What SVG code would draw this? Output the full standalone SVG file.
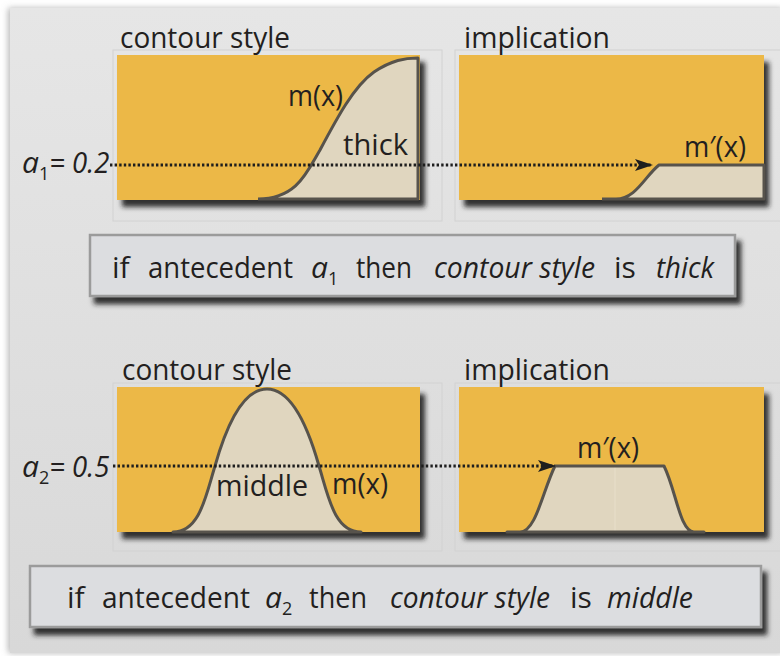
<svg xmlns="http://www.w3.org/2000/svg" width="780" height="656" viewBox="0 0 780 656">
<defs>
<linearGradient id="bg" x1="0" y1="0" x2="0" y2="1">
<stop offset="0" stop-color="#e6e6e6"/>
<stop offset="1" stop-color="#d8d8d8"/>
</linearGradient>
<filter id="sh" x="-10%" y="-10%" width="130%" height="140%">
<feDropShadow dx="5" dy="7" stdDeviation="2.5" flood-color="#1e1e1e" flood-opacity="0.9"/>
</filter>
<filter id="bgsh" x="-5%" y="-5%" width="110%" height="110%">
<feDropShadow dx="-2" dy="0" stdDeviation="3" flood-color="#888" flood-opacity="0.6"/>
</filter>
<marker id="arr" viewBox="0 0 18 12" refX="17" refY="6" markerWidth="18" markerHeight="12" markerUnits="userSpaceOnUse" orient="auto">
<path d="M0,0 L18,6 L0,12 L4,6 Z" fill="#1e1e1e"/>
</marker>
<style>
.t{font-family:"Open Sans","Noto Sans","Liberation Sans",sans-serif;font-size:30px;fill:#231f20}
.i{font-style:italic}
.sub{font-size:18px}
.panel{fill:#ecb846}
.area{fill:#e0d6bf;stroke:none}
.curve{fill:none;stroke:#57534c;stroke-width:3;stroke-linejoin:round}
.dot{fill:none;stroke:#1e1e1e;stroke-width:3;stroke-dasharray:2.4 2.2}
.frame{fill:none;stroke:#d2d2d2;stroke-width:1}
.rule{fill:#dcdde0;stroke:#9b9b9b;stroke-width:2.5}
</style>
</defs>
<rect x="0" y="0" width="780" height="656" fill="#ffffff"/>
<rect x="10" y="8" width="775" height="645" fill="url(#bg)" filter="url(#bgsh)"/>

<g id="frames">
<rect class="frame" x="113" y="50" width="329" height="171"/>
<rect class="frame" x="455" y="50" width="330" height="171"/>
<rect class="frame" x="113" y="383" width="329" height="168"/>
<rect class="frame" x="455" y="383" width="330" height="168"/>
</g>

<g id="panel1">
<text class="t" x="120" y="48" textLength="170" lengthAdjust="spacingAndGlyphs">contour style</text>
<rect class="panel" x="117" y="55" width="303" height="145" filter="url(#sh)"/>
<path class="area" d="M258,199 C297,199 307,172 320,150 C337,118 354,86 374,72 C392,60 405,58 418,58 L418,199 Z"/>
<path class="curve" d="M258,199 C297,199 307,172 320,150 C337,118 354,86 374,72 C392,60 405,58 418,58 L418,199 L258,199"/>
<text class="t" x="288" y="106" textLength="55" lengthAdjust="spacingAndGlyphs">m(x)</text>
<text class="t" x="343" y="155" textLength="65" lengthAdjust="spacingAndGlyphs">thick</text>
</g>

<g id="panel2">
<text class="t" x="464" y="48" textLength="146" lengthAdjust="spacingAndGlyphs">implication</text>
<rect class="panel" x="459" y="55" width="305" height="145" filter="url(#sh)"/>
<path class="area" d="M602,199 L616,199 C636,199 645,176 659,165 L764,165 L764,199 Z"/>
<path class="curve" d="M602,199 L616,199 C636,199 645,176 659,165 L764,165 L764,199 L602,199"/>
<text class="t" x="684" y="157" textLength="62" lengthAdjust="spacingAndGlyphs">m′(x)</text>
</g>

<g id="rule1">
<rect class="rule" x="90" y="235" width="645" height="61" filter="url(#sh)"/>
<text class="t" y="278"><tspan x="112">if</tspan><tspan x="148" textLength="145" lengthAdjust="spacingAndGlyphs">antecedent</tspan><tspan x="311" class="i">a</tspan><tspan class="sub" dy="7">1</tspan><tspan x="356" dy="-7" textLength="56" lengthAdjust="spacingAndGlyphs">then</tspan><tspan x="434" class="i" textLength="161" lengthAdjust="spacingAndGlyphs">contour style</tspan><tspan x="614">is</tspan><tspan x="656" class="i" textLength="58" lengthAdjust="spacingAndGlyphs">thick</tspan></text>
</g>

<g id="label1">
<text class="t" x="22" y="173"><tspan class="i">a</tspan><tspan class="sub" dy="7">1</tspan><tspan class="i" dy="-7" textLength="60" lengthAdjust="spacingAndGlyphs">= 0.2</tspan></text>
</g>

<g id="panel3">
<text class="t" x="122" y="380" textLength="170" lengthAdjust="spacingAndGlyphs">contour style</text>
<rect class="panel" x="117" y="387" width="303" height="145" filter="url(#sh)"/>
<path class="area" d="M173,532 C200,532 206,495 215,466 C228,420 245,389 267,389 C289,389 306,420 319,466 C328,495 334,532 361,532 Z"/>
<path class="curve" d="M173,532 C200,532 206,495 215,466 C228,420 245,389 267,389 C289,389 306,420 319,466 C328,495 334,532 361,532 Z"/>
<text class="t" x="216" y="496" textLength="92" lengthAdjust="spacingAndGlyphs">middle</text>
<text class="t" x="332" y="494" textLength="56" lengthAdjust="spacingAndGlyphs">m(x)</text>
</g>

<g id="panel4">
<text class="t" x="464" y="380" textLength="146" lengthAdjust="spacingAndGlyphs">implication</text>
<rect class="panel" x="459" y="387" width="305" height="145" filter="url(#sh)"/>
<path class="area" d="M520,532 C536,532 543,490 555,466 L664,466 C676,490 680,532 694,532 Z"/>
<line x1="615" y1="467" x2="615" y2="531" stroke="#e8dfca" stroke-width="1"/>
<path class="curve" d="M507,532 L520,532 C536,532 543,490 555,466 L664,466 C676,490 680,532 694,532 L704,532 Z"/>
<text class="t" x="577" y="458" textLength="62" lengthAdjust="spacingAndGlyphs">m′(x)</text>
</g>

<g id="rule2">
<rect class="rule" x="30" y="566" width="731" height="61" filter="url(#sh)"/>
<text class="t" y="608"><tspan x="67">if</tspan><tspan x="102" textLength="148" lengthAdjust="spacingAndGlyphs">antecedent</tspan><tspan x="265" class="i">a</tspan><tspan class="sub" dy="7">2</tspan><tspan x="309" dy="-7" textLength="58" lengthAdjust="spacingAndGlyphs">then</tspan><tspan x="390" class="i" textLength="160" lengthAdjust="spacingAndGlyphs">contour style</tspan><tspan x="570">is</tspan><tspan x="607" class="i" textLength="86" lengthAdjust="spacingAndGlyphs">middle</tspan></text>
</g>

<g id="label2">
<text class="t" x="22" y="477"><tspan class="i">a</tspan><tspan class="sub" dy="7">2</tspan><tspan class="i" dy="-7" textLength="60" lengthAdjust="spacingAndGlyphs">= 0.5</tspan></text>
</g>

<g id="connectors">
<line class="dot" x1="110" y1="165" x2="652" y2="165" marker-end="url(#arr)"/>
<line class="dot" x1="113" y1="466" x2="555" y2="466" marker-end="url(#arr)"/>
</g>
</svg>
